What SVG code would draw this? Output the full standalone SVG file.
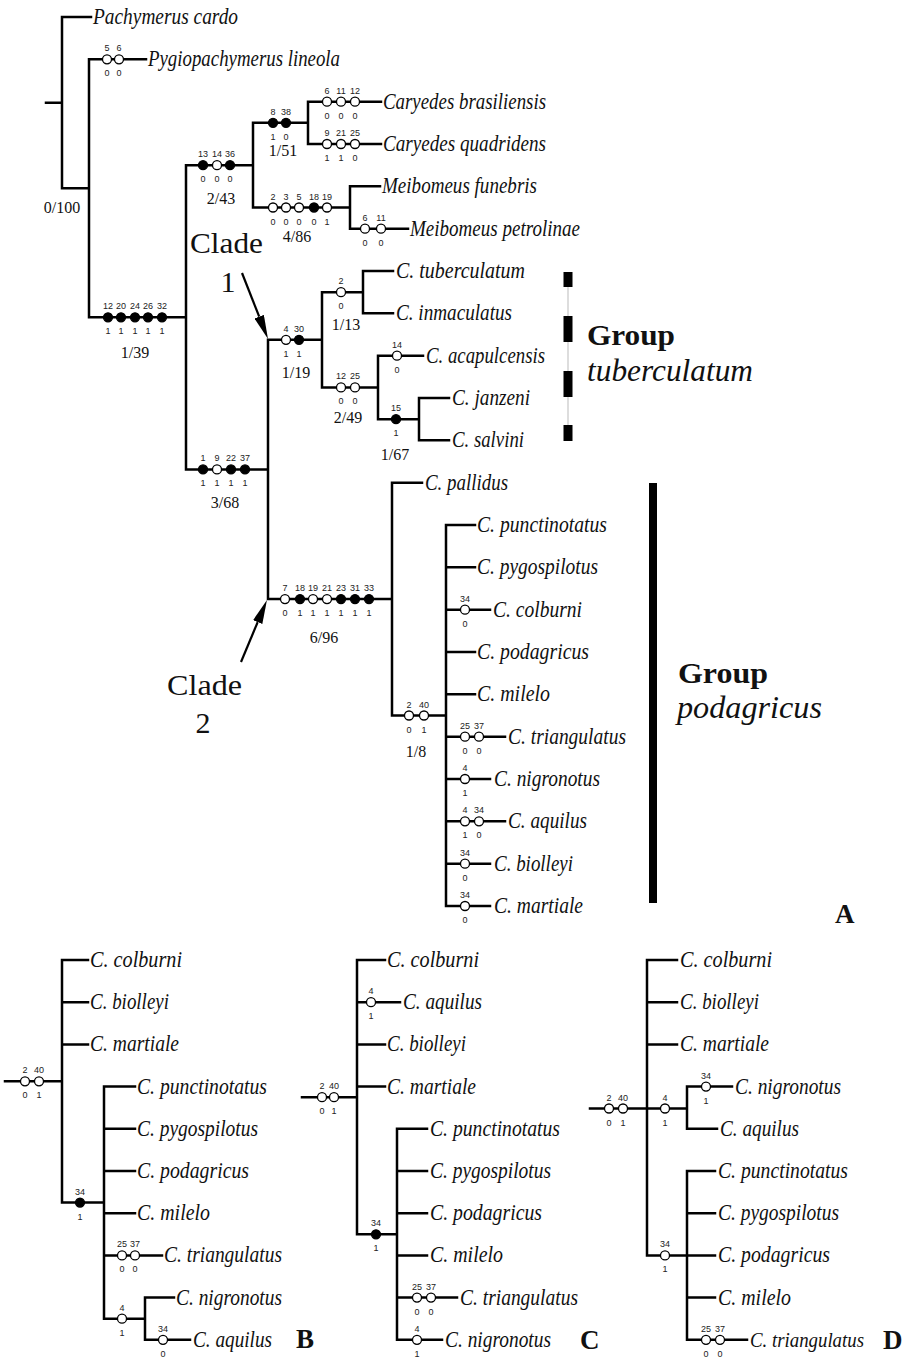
<svg xmlns="http://www.w3.org/2000/svg" width="905" height="1360" viewBox="0 0 905 1360">
<style>
.br{stroke:#000;stroke-width:2.5;fill:none;stroke-linecap:square}
.o{fill:#fff;stroke:#000;stroke-width:1.3}
.f{fill:#000;stroke:#000;stroke-width:1.3}
.n{font-family:"Liberation Sans",Arial,sans-serif;font-size:9px;text-anchor:middle;fill:#222}
.t{font-family:"Liberation Serif","Times New Roman",serif;font-style:italic;font-size:23px;fill:#111}
.s{font-family:"Liberation Serif","Times New Roman",serif;font-size:16px;text-anchor:middle;fill:#111}
.cl{font-family:"Liberation Serif","Times New Roman",serif;font-size:30px;fill:#111}
.gb{font-family:"Liberation Serif","Times New Roman",serif;font-size:30px;font-weight:bold;fill:#111}
.gi{font-family:"Liberation Serif","Times New Roman",serif;font-size:31px;font-style:italic;fill:#111}
.pl{font-family:"Liberation Serif","Times New Roman",serif;font-size:27px;font-weight:bold;fill:#111}
.ar{stroke:#000;stroke-width:2.2;fill:none}
</style>
<defs>
<marker id="ah" viewBox="0 0 24 10" refX="0" refY="5" markerWidth="24" markerHeight="10" markerUnits="userSpaceOnUse" orient="auto" preserveAspectRatio="none"><path d="M0 0 L24 5 L0 10 Z" fill="#000"/></marker>
</defs>
<g id="connectors">
<path class="br" d="M46 102.7H62 M62 17V188.3 M62 17H91 M62 188.3H89 M89 59.3V317.3 M89 59.3H146 M89 317.3H186 M186 165.2V469.4 M186 165.2H253 M253 122.8V207.5 M253 122.8H308 M308 101.7V144 M308 101.7H381 M308 144H381 M253 207.5H350 M350 186.3V228.7 M350 186.3H380 M350 228.7H408 M186 469.4H268 M268 339.8V599.1 M268 339.8H322 M322 292.2V387.4 M322 292.2H363 M363 271V313.3 M363 271H393 M363 313.3H393 M322 387.4H378 M378 355.7V419.2 M378 355.7H423 M378 419.2H419 M419 398V440.3 M419 398H449 M419 440.3H449 M268 599.1H392 M392 482.7V715.5 M392 482.7H422 M392 715.5H446 M446 525V906 M446 525H475 M446 567.3H475 M446 609.7H490 M446 652H475 M446 694.3H475 M446 736.7H505 M446 779H490 M446 821.3H505 M446 863.7H490 M446 906H490"/>
<path class="br" d="M5 1081.3H62 M62 960V1202.6 M62 960H88 M62 1002.2H88 M62 1044.4H88 M62 1202.6H104 M104 1086.6V1318.7 M104 1086.6H135 M104 1128.8H135 M104 1171H135 M104 1213.2H135 M104 1255.4H162 M104 1318.7H145 M145 1297.6V1339.8 M145 1297.6H174 M145 1339.8H190"/>
<path class="br" d="M302 1097.2H357 M357 960V1234.3 M357 960H385 M357 1002.2H400 M357 1044.4H385 M357 1086.6H385 M357 1234.3H397 M397 1128.8V1339.8 M397 1128.8H427 M397 1171H427 M397 1213.2H427 M397 1255.4H427 M397 1297.6H457 M397 1339.8H442"/>
<path class="br" d="M590 1108.5H687 M647 960V1255.4 M647 960H677 M647 1002.2H677 M647 1044.4H677 M687 1086.6V1128.8 M687 1086.6H732 M687 1128.8H717 M647 1255.4H687 M687 1171V1339.8 M687 1171H715 M687 1213.2H715 M687 1255.4H715 M687 1297.6H715 M687 1339.8H747"/>
<path class="ar" d="M242 273 L259.2 316.7" marker-end="url(#ah)"/>
<path class="ar" d="M241 662 L257.7 622.1" marker-end="url(#ah)"/>
</g>
<g id="characters-A">
<circle class="o" cx="107" cy="59.3" r="4.5"/><circle class="o" cx="119" cy="59.3" r="4.5"/>
<text class="n" x="107" y="51.3">5</text><text class="n" x="119" y="51.3">6</text><text class="n" x="107" y="76.3">0</text><text class="n" x="119" y="76.3">0</text>
<circle class="o" cx="327" cy="101.7" r="4.5"/><circle class="o" cx="341" cy="101.7" r="4.5"/><circle class="o" cx="355" cy="101.7" r="4.5"/>
<text class="n" x="327" y="93.7">6</text><text class="n" x="341" y="93.7">11</text><text class="n" x="355" y="93.7">12</text>
<text class="n" x="327" y="118.7">0</text><text class="n" x="341" y="118.7">0</text><text class="n" x="355" y="118.7">0</text>
<circle class="o" cx="327" cy="144" r="4.5"/><circle class="o" cx="341" cy="144" r="4.5"/><circle class="o" cx="355" cy="144" r="4.5"/>
<text class="n" x="327" y="136">9</text><text class="n" x="341" y="136">21</text><text class="n" x="355" y="136">25</text>
<text class="n" x="327" y="161">1</text><text class="n" x="341" y="161">1</text><text class="n" x="355" y="161">0</text>
<circle class="o" cx="365" cy="228.7" r="4.5"/><circle class="o" cx="381" cy="228.7" r="4.5"/>
<text class="n" x="365" y="220.7">6</text><text class="n" x="381" y="220.7">11</text><text class="n" x="365" y="245.7">0</text><text class="n" x="381" y="245.7">0</text>
<circle class="o" cx="397" cy="355.7" r="4.5"/><text class="n" x="397" y="347.7">14</text><text class="n" x="397" y="372.7">0</text>
<circle class="o" cx="465" cy="609.7" r="4.5"/><text class="n" x="465" y="601.7">34</text><text class="n" x="465" y="626.7">0</text>
<circle class="o" cx="465" cy="736.7" r="4.5"/><circle class="o" cx="479" cy="736.7" r="4.5"/>
<text class="n" x="465" y="728.7">25</text><text class="n" x="479" y="728.7">37</text><text class="n" x="465" y="753.7">0</text><text class="n" x="479" y="753.7">0</text>
<circle class="o" cx="465" cy="779" r="4.5"/><text class="n" x="465" y="771">4</text><text class="n" x="465" y="796">1</text>
<circle class="o" cx="465" cy="821.3" r="4.5"/><circle class="o" cx="479" cy="821.3" r="4.5"/>
<text class="n" x="465" y="813.3">4</text><text class="n" x="479" y="813.3">34</text><text class="n" x="465" y="838.3">1</text><text class="n" x="479" y="838.3">0</text>
<circle class="o" cx="465" cy="863.7" r="4.5"/><text class="n" x="465" y="855.7">34</text><text class="n" x="465" y="880.7">0</text>
<circle class="o" cx="465" cy="906" r="4.5"/><text class="n" x="465" y="898">34</text><text class="n" x="465" y="923">0</text>
</g>
<g id="node-big">
<circle class="f" cx="108" cy="317.3" r="4.5"/><circle class="f" cx="121" cy="317.3" r="4.5"/><circle class="f" cx="135" cy="317.3" r="4.5"/><circle class="f" cx="148" cy="317.3" r="4.5"/><circle class="f" cx="162" cy="317.3" r="4.5"/>
<text class="n" x="108" y="309.3">12</text><text class="n" x="121" y="309.3">20</text><text class="n" x="135" y="309.3">24</text><text class="n" x="148" y="309.3">26</text><text class="n" x="162" y="309.3">32</text>
<text class="n" x="108" y="334.3">1</text><text class="n" x="121" y="334.3">1</text><text class="n" x="135" y="334.3">1</text><text class="n" x="148" y="334.3">1</text><text class="n" x="162" y="334.3">1</text>
<text class="s" x="135" y="358">1/39</text>
</g>
<g id="node-pyg"><text class="s" x="62" y="213">0/100</text></g>
<g id="node-cm">
<circle class="f" cx="203" cy="165.2" r="4.5"/><circle class="o" cx="217" cy="165.2" r="4.5"/><circle class="f" cx="230" cy="165.2" r="4.5"/>
<text class="n" x="203" y="157.2">13</text><text class="n" x="217" y="157.2">14</text><text class="n" x="230" y="157.2">36</text>
<text class="n" x="203" y="182.2">0</text><text class="n" x="217" y="182.2">0</text><text class="n" x="230" y="182.2">0</text>
<text class="s" x="221" y="204">2/43</text>
</g>
<g id="node-car">
<circle class="f" cx="273" cy="122.8" r="4.5"/><circle class="f" cx="286" cy="122.8" r="4.5"/>
<text class="n" x="273" y="114.8">8</text><text class="n" x="286" y="114.8">38</text><text class="n" x="273" y="139.8">1</text><text class="n" x="286" y="139.8">0</text>
<text class="s" x="283" y="156">1/51</text>
</g>
<g id="node-mei">
<circle class="o" cx="273" cy="207.5" r="4.5"/><circle class="o" cx="286" cy="207.5" r="4.5"/><circle class="o" cx="299" cy="207.5" r="4.5"/><circle class="f" cx="314" cy="207.5" r="4.5"/><circle class="o" cx="327" cy="207.5" r="4.5"/>
<text class="n" x="273" y="199.5">2</text><text class="n" x="286" y="199.5">3</text><text class="n" x="299" y="199.5">5</text><text class="n" x="314" y="199.5">18</text><text class="n" x="327" y="199.5">19</text>
<text class="n" x="273" y="224.5">0</text><text class="n" x="286" y="224.5">0</text><text class="n" x="299" y="224.5">0</text><text class="n" x="314" y="224.5">0</text><text class="n" x="327" y="224.5">1</text>
<text class="s" x="297" y="242">4/86</text>
</g>
<g id="node-cal">
<circle class="f" cx="203" cy="469.4" r="4.5"/><circle class="o" cx="217" cy="469.4" r="4.5"/><circle class="f" cx="231" cy="469.4" r="4.5"/><circle class="f" cx="245" cy="469.4" r="4.5"/>
<text class="n" x="203" y="461.4">1</text><text class="n" x="217" y="461.4">9</text><text class="n" x="231" y="461.4">22</text><text class="n" x="245" y="461.4">37</text>
<text class="n" x="203" y="486.4">1</text><text class="n" x="217" y="486.4">1</text><text class="n" x="231" y="486.4">1</text><text class="n" x="245" y="486.4">1</text>
<text class="s" x="225" y="508">3/68</text>
</g>
<g id="node-clade1">
<circle class="o" cx="286" cy="339.8" r="4.5"/><circle class="f" cx="299" cy="339.8" r="4.5"/>
<text class="n" x="286" y="331.8">4</text><text class="n" x="299" y="331.8">30</text><text class="n" x="286" y="356.8">1</text><text class="n" x="299" y="356.8">1</text>
<text class="s" x="296" y="378">1/19</text>
</g>
<g id="node-tub">
<circle class="o" cx="341" cy="292.2" r="4.5"/><text class="n" x="341" y="284.2">2</text><text class="n" x="341" y="309.2">0</text>
<text class="s" x="346" y="330">1/13</text>
</g>
<g id="node-aj">
<circle class="o" cx="341" cy="387.4" r="4.5"/><circle class="o" cx="355" cy="387.4" r="4.5"/>
<text class="n" x="341" y="379.4">12</text><text class="n" x="355" y="379.4">25</text><text class="n" x="341" y="404.4">0</text><text class="n" x="355" y="404.4">0</text>
<text class="s" x="348" y="423">2/49</text>
</g>
<g id="node-js">
<circle class="f" cx="396" cy="419.2" r="4.5"/><text class="n" x="396" y="411.2">15</text><text class="n" x="396" y="436.2">1</text>
<text class="s" x="395" y="460">1/67</text>
</g>
<g id="node-clade2">
<circle class="o" cx="285" cy="599.1" r="4.5"/><circle class="f" cx="300" cy="599.1" r="4.5"/><circle class="o" cx="313" cy="599.1" r="4.5"/><circle class="o" cx="327" cy="599.1" r="4.5"/><circle class="f" cx="341" cy="599.1" r="4.5"/><circle class="f" cx="355" cy="599.1" r="4.5"/><circle class="f" cx="369" cy="599.1" r="4.5"/>
<text class="n" x="285" y="591.1">7</text><text class="n" x="300" y="591.1">18</text><text class="n" x="313" y="591.1">19</text><text class="n" x="327" y="591.1">21</text><text class="n" x="341" y="591.1">23</text><text class="n" x="355" y="591.1">31</text><text class="n" x="369" y="591.1">33</text>
<text class="n" x="285" y="616.1">0</text><text class="n" x="300" y="616.1">1</text><text class="n" x="313" y="616.1">1</text><text class="n" x="327" y="616.1">1</text><text class="n" x="341" y="616.1">1</text><text class="n" x="355" y="616.1">1</text><text class="n" x="369" y="616.1">1</text>
<text class="s" x="324" y="643">6/96</text>
</g>
<g id="node-pod">
<circle class="o" cx="409" cy="715.5" r="4.5"/><circle class="o" cx="424" cy="715.5" r="4.5"/>
<text class="n" x="409" y="707.5">2</text><text class="n" x="424" y="707.5">40</text><text class="n" x="409" y="732.5">0</text><text class="n" x="424" y="732.5">1</text>
<text class="s" x="416" y="757">1/8</text>
</g>
<g id="taxa-A">
<text class="t" x="93" y="24" textLength="145" lengthAdjust="spacingAndGlyphs">Pachymerus cardo</text>
<text class="t" x="148" y="66.3" textLength="192" lengthAdjust="spacingAndGlyphs">Pygiopachymerus lineola</text>
<text class="t" x="383" y="108.7" textLength="163" lengthAdjust="spacingAndGlyphs">Caryedes brasiliensis</text>
<text class="t" x="383" y="151" textLength="163" lengthAdjust="spacingAndGlyphs">Caryedes quadridens</text>
<text class="t" x="382" y="193.3" textLength="155" lengthAdjust="spacingAndGlyphs">Meibomeus funebris</text>
<text class="t" x="410" y="235.7" textLength="170" lengthAdjust="spacingAndGlyphs">Meibomeus petrolinae</text>
<text class="t" x="396" y="278" textLength="129" lengthAdjust="spacingAndGlyphs">C. tuberculatum</text>
<text class="t" x="396" y="320.3" textLength="116" lengthAdjust="spacingAndGlyphs">C. inmaculatus</text>
<text class="t" x="426" y="362.7" textLength="119" lengthAdjust="spacingAndGlyphs">C. acapulcensis</text>
<text class="t" x="452" y="405" textLength="78" lengthAdjust="spacingAndGlyphs">C. janzeni</text>
<text class="t" x="452" y="447.3" textLength="72" lengthAdjust="spacingAndGlyphs">C. salvini</text>
<text class="t" x="425" y="489.7" textLength="83" lengthAdjust="spacingAndGlyphs">C. pallidus</text>
<text class="t" x="477" y="532" textLength="130" lengthAdjust="spacingAndGlyphs">C. punctinotatus</text>
<text class="t" x="477" y="574.3" textLength="121" lengthAdjust="spacingAndGlyphs">C. pygospilotus</text>
<text class="t" x="493" y="616.7" textLength="89" lengthAdjust="spacingAndGlyphs">C. colburni</text>
<text class="t" x="477" y="659" textLength="112" lengthAdjust="spacingAndGlyphs">C. podagricus</text>
<text class="t" x="477" y="701.3" textLength="73" lengthAdjust="spacingAndGlyphs">C. milelo</text>
<text class="t" x="508" y="743.7" textLength="118" lengthAdjust="spacingAndGlyphs">C. triangulatus</text>
<text class="t" x="494" y="786" textLength="106" lengthAdjust="spacingAndGlyphs">C. nigronotus</text>
<text class="t" x="508" y="828.3" textLength="79" lengthAdjust="spacingAndGlyphs">C. aquilus</text>
<text class="t" x="494" y="870.7" textLength="79" lengthAdjust="spacingAndGlyphs">C. biolleyi</text>
<text class="t" x="494" y="913" textLength="89" lengthAdjust="spacingAndGlyphs">C. martiale</text>
</g>
<g id="clade-labels">
<text class="cl" x="190" y="253" textLength="73" lengthAdjust="spacingAndGlyphs">Clade</text>
<text class="cl" x="228" y="292" text-anchor="middle">1</text>
<text class="cl" x="167" y="695" textLength="75" lengthAdjust="spacingAndGlyphs">Clade</text>
<text class="cl" x="203" y="733" text-anchor="middle">2</text>
</g>
<g id="group-tuberculatum">
<line x1="568" y1="272" x2="568" y2="441" stroke="#bbb" stroke-width="1"/>
<rect x="563.5" y="272" width="9" height="15" fill="#000"/>
<rect x="563.5" y="316" width="9" height="26" fill="#000"/>
<rect x="563.5" y="371" width="9" height="26" fill="#000"/>
<rect x="563.5" y="425" width="9" height="16" fill="#000"/>
<text class="gb" x="587" y="345" textLength="88" lengthAdjust="spacingAndGlyphs">Group</text>
<text class="gi" x="587" y="381" textLength="166" lengthAdjust="spacingAndGlyphs">tuberculatum</text>
</g>
<g id="group-podagricus">
<rect x="649" y="483" width="8" height="420" fill="#000"/>
<text class="gb" x="678" y="683" textLength="90" lengthAdjust="spacingAndGlyphs">Group</text>
<text class="gi" x="677" y="718" textLength="145" lengthAdjust="spacingAndGlyphs">podagricus</text>
</g>
<g id="panel-labels">
<text class="pl" x="835" y="923">A</text>
<text class="pl" x="296" y="1348">B</text>
<text class="pl" x="580" y="1349">C</text>
<text class="pl" x="883" y="1349">D</text>
</g>
<g id="panel-B">
<circle class="o" cx="25" cy="1081.3" r="4.5"/><circle class="o" cx="39" cy="1081.3" r="4.5"/>
<text class="n" x="25" y="1073.3">2</text><text class="n" x="39" y="1073.3">40</text><text class="n" x="25" y="1098.3">0</text><text class="n" x="39" y="1098.3">1</text>
<circle class="f" cx="80" cy="1202.6" r="4.5"/><text class="n" x="80" y="1194.6">34</text><text class="n" x="80" y="1219.6">1</text>
<circle class="o" cx="122" cy="1255.4" r="4.5"/><circle class="o" cx="135" cy="1255.4" r="4.5"/>
<text class="n" x="122" y="1247.4">25</text><text class="n" x="135" y="1247.4">37</text><text class="n" x="122" y="1272.4">0</text><text class="n" x="135" y="1272.4">0</text>
<circle class="o" cx="122" cy="1318.7" r="4.5"/><text class="n" x="122" y="1310.7">4</text><text class="n" x="122" y="1335.7">1</text>
<circle class="o" cx="163" cy="1339.8" r="4.5"/><text class="n" x="163" y="1331.8">34</text><text class="n" x="163" y="1356.8">0</text>
<text class="t" x="90" y="967" textLength="92" lengthAdjust="spacingAndGlyphs">C. colburni</text>
<text class="t" x="90" y="1009.2" textLength="79" lengthAdjust="spacingAndGlyphs">C. biolleyi</text>
<text class="t" x="90" y="1051.4" textLength="89" lengthAdjust="spacingAndGlyphs">C. martiale</text>
<text class="t" x="137" y="1093.6" textLength="130" lengthAdjust="spacingAndGlyphs">C. punctinotatus</text>
<text class="t" x="137" y="1135.8" textLength="121" lengthAdjust="spacingAndGlyphs">C. pygospilotus</text>
<text class="t" x="137" y="1178" textLength="112" lengthAdjust="spacingAndGlyphs">C. podagricus</text>
<text class="t" x="137" y="1220.2" textLength="73" lengthAdjust="spacingAndGlyphs">C. milelo</text>
<text class="t" x="164" y="1262.4" textLength="118" lengthAdjust="spacingAndGlyphs">C. triangulatus</text>
<text class="t" x="176" y="1304.6" textLength="106" lengthAdjust="spacingAndGlyphs">C. nigronotus</text>
<text class="t" x="193" y="1346.8" textLength="79" lengthAdjust="spacingAndGlyphs">C. aquilus</text>
</g>
<g id="panel-C">
<circle class="o" cx="322" cy="1097.2" r="4.5"/><circle class="o" cx="334" cy="1097.2" r="4.5"/>
<text class="n" x="322" y="1089.2">2</text><text class="n" x="334" y="1089.2">40</text><text class="n" x="322" y="1114.2">0</text><text class="n" x="334" y="1114.2">1</text>
<circle class="o" cx="371" cy="1002.2" r="4.5"/><text class="n" x="371" y="994.2">4</text><text class="n" x="371" y="1019.2">1</text>
<circle class="f" cx="376" cy="1234.3" r="4.5"/><text class="n" x="376" y="1226.3">34</text><text class="n" x="376" y="1251.3">1</text>
<circle class="o" cx="417" cy="1297.6" r="4.5"/><circle class="o" cx="431" cy="1297.6" r="4.5"/>
<text class="n" x="417" y="1289.6">25</text><text class="n" x="431" y="1289.6">37</text><text class="n" x="417" y="1314.6">0</text><text class="n" x="431" y="1314.6">0</text>
<circle class="o" cx="417" cy="1339.8" r="4.5"/><text class="n" x="417" y="1331.8">4</text><text class="n" x="417" y="1356.8">1</text>
<text class="t" x="387" y="967" textLength="92" lengthAdjust="spacingAndGlyphs">C. colburni</text>
<text class="t" x="403" y="1009.2" textLength="79" lengthAdjust="spacingAndGlyphs">C. aquilus</text>
<text class="t" x="387" y="1051.4" textLength="79" lengthAdjust="spacingAndGlyphs">C. biolleyi</text>
<text class="t" x="387" y="1093.6" textLength="89" lengthAdjust="spacingAndGlyphs">C. martiale</text>
<text class="t" x="430" y="1135.8" textLength="130" lengthAdjust="spacingAndGlyphs">C. punctinotatus</text>
<text class="t" x="430" y="1178" textLength="121" lengthAdjust="spacingAndGlyphs">C. pygospilotus</text>
<text class="t" x="430" y="1220.2" textLength="112" lengthAdjust="spacingAndGlyphs">C. podagricus</text>
<text class="t" x="430" y="1262.4" textLength="73" lengthAdjust="spacingAndGlyphs">C. milelo</text>
<text class="t" x="460" y="1304.6" textLength="118" lengthAdjust="spacingAndGlyphs">C. triangulatus</text>
<text class="t" x="445" y="1346.8" textLength="106" lengthAdjust="spacingAndGlyphs">C. nigronotus</text>
</g>
<g id="panel-D">
<circle class="o" cx="609" cy="1108.5" r="4.5"/><circle class="o" cx="623" cy="1108.5" r="4.5"/>
<text class="n" x="609" y="1100.5">2</text><text class="n" x="623" y="1100.5">40</text><text class="n" x="609" y="1125.5">0</text><text class="n" x="623" y="1125.5">1</text>
<circle class="o" cx="665" cy="1108.5" r="4.5"/><text class="n" x="665" y="1100.5">4</text><text class="n" x="665" y="1125.5">1</text>
<circle class="o" cx="706" cy="1086.6" r="4.5"/><text class="n" x="706" y="1078.6">34</text><text class="n" x="706" y="1103.6">1</text>
<circle class="o" cx="665" cy="1255.4" r="4.5"/><text class="n" x="665" y="1247.4">34</text><text class="n" x="665" y="1272.4">1</text>
<circle class="o" cx="706" cy="1339.8" r="4.5"/><circle class="o" cx="720" cy="1339.8" r="4.5"/>
<text class="n" x="706" y="1331.8">25</text><text class="n" x="720" y="1331.8">37</text><text class="n" x="706" y="1356.8">0</text><text class="n" x="720" y="1356.8">0</text>
<text class="t" x="680" y="967" textLength="92" lengthAdjust="spacingAndGlyphs">C. colburni</text>
<text class="t" x="680" y="1009.2" textLength="79" lengthAdjust="spacingAndGlyphs">C. biolleyi</text>
<text class="t" x="680" y="1051.4" textLength="89" lengthAdjust="spacingAndGlyphs">C. martiale</text>
<text class="t" x="735" y="1093.6" textLength="106" lengthAdjust="spacingAndGlyphs">C. nigronotus</text>
<text class="t" x="720" y="1135.8" textLength="79" lengthAdjust="spacingAndGlyphs">C. aquilus</text>
<text class="t" x="718" y="1178" textLength="130" lengthAdjust="spacingAndGlyphs">C. punctinotatus</text>
<text class="t" x="718" y="1220.2" textLength="121" lengthAdjust="spacingAndGlyphs">C. pygospilotus</text>
<text class="t" x="718" y="1262.4" textLength="112" lengthAdjust="spacingAndGlyphs">C. podagricus</text>
<text class="t" x="718" y="1304.6" textLength="73" lengthAdjust="spacingAndGlyphs">C. milelo</text>
<text class="t" x="750" y="1346.8" textLength="114" lengthAdjust="spacingAndGlyphs" style="font-size:20px">C. triangulatus</text>
</g>
</svg>
